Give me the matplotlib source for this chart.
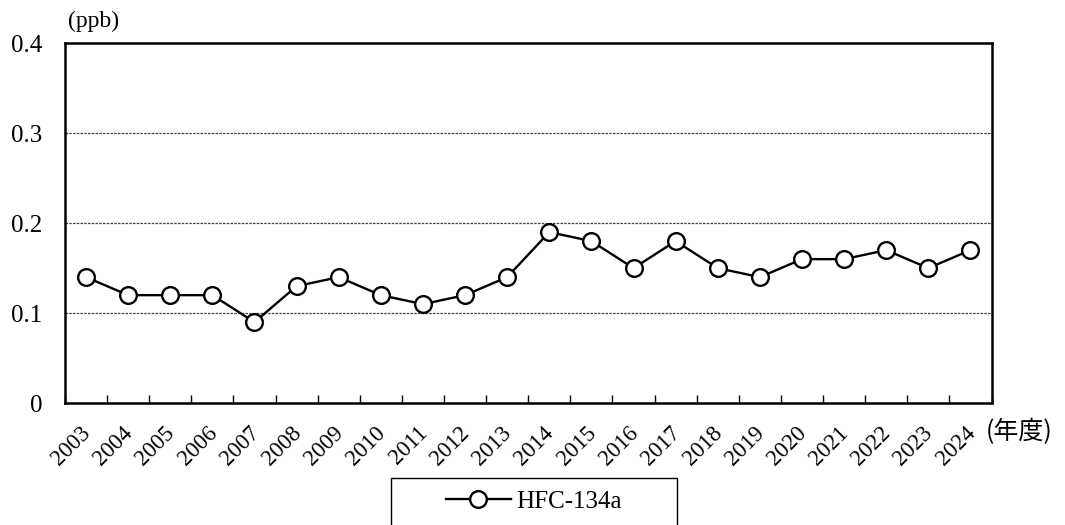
import numpy as np
import matplotlib.pyplot as plt
import matplotlib.transforms as mtransforms
from matplotlib.patches import Rectangle

years = [str(y) for y in range(2003, 2025)]
hfc134a = [0.14, 0.12, 0.12, 0.12, 0.09, 0.13, 0.14, 0.12, 0.11, 0.12, 0.14,
           0.19, 0.18, 0.15, 0.18, 0.15, 0.14, 0.16, 0.16, 0.17, 0.15, 0.17]
y_ticks = [0, 0.1, 0.2, 0.3, 0.4]
y_labels = ['0', '0.1', '0.2', '0.3', '0.4']

plt.rcParams['font.family'] = ['Liberation Serif', 'Noto Sans CJK JP']

fig = plt.figure(figsize=(10.65, 5.25), dpi=100)
ax = fig.add_axes([0.061, 0.232, 0.870, 0.686])

x = np.arange(len(years))
line, = ax.plot(x, hfc134a, color='black', lw=1.7, marker='o', ms=12,
                mfc='white', mec='black', mew=1.7, label='HFC-134a', zorder=3)

ax.set_xlim(-0.5, len(years) - 0.5)
ax.set_ylim(0, 0.4)
ax.set_yticks(y_ticks)
ax.set_yticklabels(y_labels, fontsize=18)
ax.tick_params(axis='y', length=0, pad=16)

ax.set_xticks(x)
ax.set_xticklabels(years, rotation=45, ha='right', va='top',
                   rotation_mode='anchor', fontsize=16.5)
ax.tick_params(axis='x', which='major', length=0, pad=14)
shift = mtransforms.ScaledTranslation(-6 / 100, 0, fig.dpi_scale_trans)
for lab in ax.get_xticklabels():
    lab.set_transform(lab.get_transform() + shift)
ax.set_xticks(np.arange(-0.5, len(years) + 0.5, 1), minor=True)
ax.tick_params(axis='x', which='minor', direction='in', length=6, width=1)

for v in [0.1, 0.2, 0.3]:
    ax.axhline(v, color='#444444', lw=0.9, ls=(0, (2, 1)), zorder=1)

for s in ax.spines.values():
    s.set_linewidth(1.8)

fig.text(0.064, 0.94, '(ppb)', fontsize=17, ha='left', va='bottom')
fig.text(0.926, 0.178, '(年度)', fontsize=18, ha='left', va='center',
         family=['Noto Sans CJK JP'])

# legend box drawn separately so its width matches the reference
fig.patches.append(Rectangle((391 / 1065, -0.01), 286 / 1065, 52 / 525,
                             transform=fig.transFigure, fill=False,
                             edgecolor='black', lw=1.0))
fig.legend(handles=[line], loc='center', bbox_to_anchor=(0.501, 0.045),
           frameon=False, fontsize=18, handlelength=2.6, handletextpad=0.2)

fig.savefig('out.png', dpi=100)
